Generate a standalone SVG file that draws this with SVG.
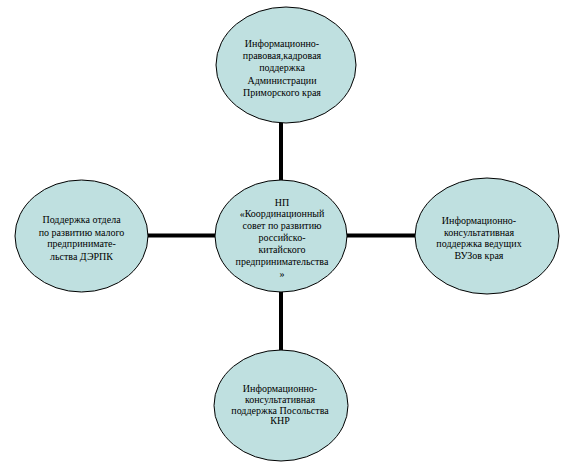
<svg xmlns="http://www.w3.org/2000/svg" width="562" height="474" viewBox="0 0 562 474">
<style>
.n{fill:#bfe0e0;stroke:#000;stroke-width:1}
.t{font-family:"Liberation Serif","Times New Roman",serif;font-size:10px;fill:#000;text-anchor:middle}
.c{stroke:#000;stroke-width:4;fill:none}
</style>
<rect width="562" height="474" fill="#fff"/>
<g id="connectors">
<line class="c" x1="281" y1="122" x2="281" y2="181"/>
<line class="c" x1="147" y1="235.5" x2="216" y2="235.5"/>
<line class="c" x1="346" y1="235.5" x2="416" y2="235.5"/>
<line class="c" x1="281" y1="291" x2="281" y2="351"/>
</g>
<g id="top">
<ellipse class="n" cx="286" cy="65" rx="70" ry="58"/>
<text class="t" x="282" y="47">Информационно-</text>
<text class="t" x="282" y="59">правовая,кадровая</text>
<text class="t" x="282" y="71">поддержка</text>
<text class="t" x="282" y="84">Администрации</text>
<text class="t" x="282" y="96">Приморского края</text>
</g>
<g id="center">
<ellipse class="n" cx="281" cy="236" rx="66" ry="56"/>
<text class="t" x="282" y="206">НП</text>
<text class="t" x="282" y="217">«Координационный</text>
<text class="t" x="282" y="229">совет по развитию</text>
<text class="t" x="282" y="241">российско-</text>
<text class="t" x="282" y="253">китайского</text>
<text class="t" x="282" y="265">предпринимательства</text>
<text class="t" x="282" y="277">»</text>
</g>
<g id="left">
<ellipse class="n" cx="81.5" cy="236" rx="66.5" ry="56"/>
<text class="t" x="81.5" y="223">Поддержка отдела</text>
<text class="t" x="81.5" y="236">по развитию малого</text>
<text class="t" x="81.5" y="247">предпринимате-</text>
<text class="t" x="81.5" y="260">льства ДЭРПК</text>
</g>
<g id="right">
<ellipse class="n" cx="487" cy="236" rx="72" ry="58"/>
<text class="t" x="479" y="224">Информационно-</text>
<text class="t" x="479" y="236">консультативная</text>
<text class="t" x="479" y="247">поддержка ведущих</text>
<text class="t" x="479" y="259">ВУЗов края</text>
</g>
<g id="bottom">
<ellipse class="n" cx="281" cy="405.5" rx="67" ry="55.5"/>
<text class="t" x="280" y="392">Информационно-</text>
<text class="t" x="280" y="403">консультативная</text>
<text class="t" x="280" y="414">поддержка Посольства</text>
<text class="t" x="280" y="424">КНР</text>
</g>
</svg>
